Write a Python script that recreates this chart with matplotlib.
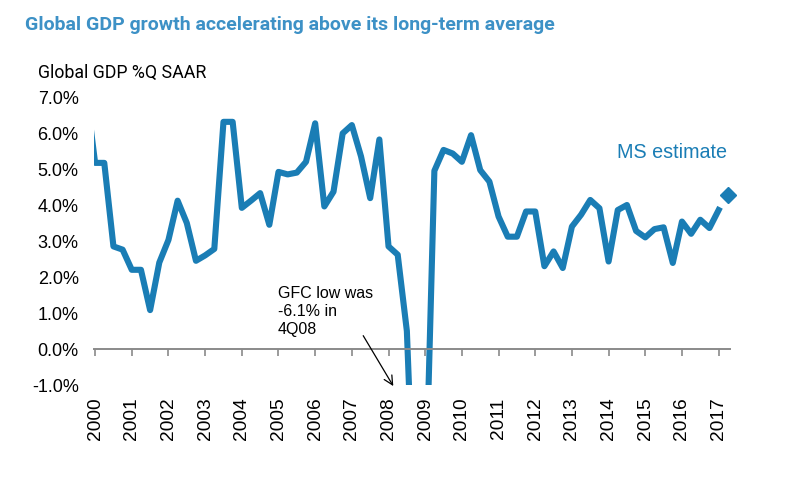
import matplotlib
matplotlib.use("Agg")
import matplotlib.pyplot as plt
import numpy as np

# ---------------- data ----------------
title = "Global GDP growth accelerating above its long-term average"
subtitle = "Global GDP %Q SAAR"
start_quarter = "1999Q4"          # first reading (clipped at the left edge)
gdp_growth = [
    7.2,                                    # 1999Q4
    5.17, 5.17, 2.85, 2.76,                 # 2000
    2.20, 2.20, 1.08, 2.40,                 # 2001
    3.03, 4.12, 3.50, 2.45,                 # 2002
    2.60, 2.78, 6.31, 6.31,                 # 2003
    3.92, 4.12, 4.33, 3.45,                 # 2004
    4.92, 4.85, 4.90, 5.20,                 # 2005
    6.27, 3.96, 4.37, 5.99,                 # 2006
    6.22, 5.35, 4.19, 5.82,                 # 2007
    2.85, 2.62, 0.50, -6.10,                # 2008
    -4.50, 4.95, 5.53, 5.43,                # 2009
    5.20, 5.94, 4.97, 4.65,                 # 2010
    3.68, 3.12, 3.12, 3.82,                 # 2011
    3.82, 2.30, 2.71, 2.25,                 # 2012
    3.40, 3.73, 4.14, 3.91,                 # 2013
    2.43, 3.86, 4.00, 3.28,                 # 2014
    3.10, 3.33, 3.38, 2.39,                 # 2015
    3.54, 3.20, 3.59, 3.36,                 # 2016
    3.86,                                   # 2017Q1
]
estimate_quarter = "2017Q2"
estimate_value = 4.28
estimate_label = "MS estimate"
annotation_text = "GFC low was\n-6.1% in\n4Q08"
years = list(range(2000, 2018))
yticks = [-1, 0, 1, 2, 3, 4, 5, 6, 7]


def q_to_year(q):
    y, n = q.split("Q")
    return int(y) + (int(n) - 1) / 4.0


x = q_to_year(start_quarter) + 0.25 * np.arange(len(gdp_growth))

# ---------------- style ----------------
blue = "#1a7db5"
title_blue = "#3d91c6"
axis_grey = "#8a8a8a"
plt.rcParams["font.family"] = ["Liberation Sans", "DejaVu Sans"]

fig = plt.figure(figsize=(7.93, 4.83), dpi=100)
ax = fig.add_axes([94 / 793, 1 - 385 / 483, 636 / 793, 288 / 483])

ax.plot(x, gdp_growth, color=blue, lw=4.4, solid_joinstyle="round")
ax.plot([q_to_year(estimate_quarter)], [estimate_value], marker="D",
        ms=8.5, color=blue, lw=0, clip_on=False)

ax.set_xlim(1999.97, 2017.31)
ax.set_ylim(-1, 7)

for s in ("top", "right", "left"):
    ax.spines[s].set_visible(False)
ax.spines["bottom"].set_position(("data", 0))
ax.spines["bottom"].set_color(axis_grey)
ax.spines["bottom"].set_linewidth(1.4)

ax.set_xticks(years)
ax.tick_params(axis="x", length=5, width=1.2, color=axis_grey,
               direction="out", labelbottom=False)
ax.set_yticks(yticks)
ax.set_yticklabels([f"{v:.1f}%" for v in yticks])
ax.tick_params(axis="y", length=0, pad=11, labelsize=13, labelcolor="black")

sec = ax.secondary_xaxis("bottom")
sec.spines["bottom"].set_visible(False)
sec.set_xticks(years)
sec.set_xticklabels([str(y) for y in years], rotation=90)
sec.tick_params(axis="x", length=0, pad=9, labelsize=13.8)

# annotation
ax.text(2004.99, 1.76, annotation_text, ha="left", va="top",
        fontsize=11.5, linespacing=1.26)
ax.annotate("", xy=(2008.13, -1.03), xytext=(2007.31, 0.37),
            arrowprops=dict(arrowstyle="->", color="black", lw=0.9,
                            mutation_scale=16, shrinkA=0, shrinkB=0),
            annotation_clip=False)

ax.text(2015.72, 5.47, estimate_label, ha="center", va="center",
        fontsize=14.2, color=blue)

fig.text(25 / 793, 1 - 25 / 483, title, ha="left", va="center",
         fontsize=14.0, fontweight="bold", color=title_blue,
         family=["Roboto", "DejaVu Sans"])
fig.text(38 / 793, 1 - 73 / 483, subtitle, ha="left", va="center",
         fontsize=12.8, color="black", family=["Roboto", "DejaVu Sans"])

fig.savefig("out.png", dpi=100)
